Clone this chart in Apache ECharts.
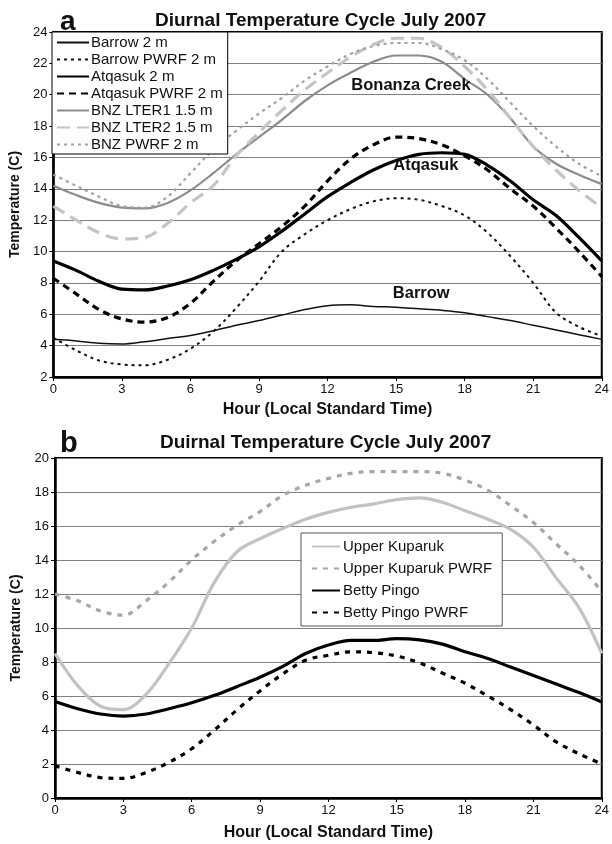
<!DOCTYPE html>
<html>
<head>
<meta charset="utf-8">
<script src="https://cdn.jsdelivr.net/npm/echarts@6/dist/echarts.min.js"></script>
<style>
html,body{margin:0;padding:0;background:#fff;}
#main{width:612px;height:844px;}
</style>
</head>
<body>
<div id="main"></div>
<script>
// ---- Data ----
var hours = [0,1,2,3,4,5,6,7,8,9,10,11,12,13,14,15,16,17,18,19,20,21,22,23,24];
var xTicks = [0,3,6,9,12,15,18,21,24];

// Panel a
var barrow2m      = [4.4,4.3,4.15,4.1,4.25,4.45,4.65,4.95,5.3,5.6,5.95,6.3,6.55,6.6,6.5,6.45,6.35,6.25,6.1,5.85,5.6,5.3,5.0,4.7,4.4];
var barrowPwrf    = [4.5,3.7,3.05,2.8,2.75,3.1,3.8,4.9,6.4,8.1,10.0,11.1,12.0,12.7,13.2,13.4,13.3,12.9,12.3,11.2,9.7,8.0,6.1,5.2,4.6];
var atqasuk2m     = [9.4,8.8,8.1,7.6,7.55,7.8,8.2,8.8,9.5,10.3,11.3,12.4,13.5,14.4,15.2,15.8,16.2,16.3,16.2,15.5,14.5,13.3,12.3,10.9,9.4];
var atqasukPwrf   = [8.3,7.3,6.3,5.7,5.5,5.8,6.7,8.1,9.4,10.5,11.6,12.9,14.5,15.9,16.8,17.3,17.2,16.8,16.1,15.2,14.0,12.9,11.5,10.0,8.4];
var bnzLter1      = [14.2,13.6,13.1,12.8,12.75,13.1,13.9,15.0,16.2,17.3,18.4,19.6,20.6,21.4,22.1,22.5,22.5,22.1,21.0,20.0,18.5,16.7,15.6,14.9,14.3];
var bnzLter2      = [12.9,12.0,11.2,10.8,10.9,11.8,13.1,14.2,16.1,17.6,19.0,20.3,21.4,22.4,23.2,23.6,23.6,23.0,21.8,20.3,18.5,16.7,15.2,13.9,12.8];
var bnzPwrf       = [14.9,14.2,13.5,12.9,12.8,13.5,15.0,16.5,17.7,18.8,19.8,20.9,21.8,22.6,23.1,23.3,23.3,22.9,22.2,21.0,19.5,18.0,16.7,15.6,14.8];

// Panel b
var upperKuparuk     = [8.5,6.6,5.4,5.2,6.1,7.9,10.0,12.7,14.5,15.25,15.85,16.4,16.8,17.1,17.3,17.55,17.65,17.4,16.9,16.4,15.8,14.75,12.95,11.2,8.5];
var upperKuparukPwrf = [12.0,11.6,11.0,10.75,11.6,12.7,14.0,15.1,16.05,16.85,17.8,18.4,18.8,19.1,19.2,19.2,19.2,19.1,18.7,18.1,17.2,16.2,14.95,13.7,12.15];
var bettyPingo       = [5.68,5.25,4.94,4.82,4.94,5.25,5.6,6.04,6.56,7.1,7.74,8.5,9.0,9.27,9.27,9.37,9.3,9.05,8.6,8.2,7.7,7.2,6.7,6.2,5.65];
var bettyPingoPwrf   = [1.9,1.5,1.2,1.15,1.5,2.1,2.9,4.0,5.2,6.3,7.3,8.1,8.4,8.6,8.55,8.35,7.95,7.35,6.75,6.0,5.2,4.3,3.3,2.6,2.0];

// Site annotations for panel a: [label, hour, temperature]
var siteLabels = [["Bonanza Creek", 15.65, 20.6], ["Atqasuk", 16.3, 15.5], ["Barrow", 16.1, 7.3]];

// ---- Chart ----
var FONT = "'Liberation Sans', Arial, sans-serif";
function pairs(vals){ return hours.map(function(h,i){ return [h, vals[i]]; }); }

function mkSeries(name, vals, idx, color, width, dash){
  return {
    name: name, type: 'line', xAxisIndex: idx, yAxisIndex: idx,
    data: pairs(vals), smooth: 0.35, symbol: 'none', showSymbol: false,
    lineStyle: { color: color, width: width, type: dash || 'solid', cap: 'butt' },
    itemStyle: { color: color },
    emphasis: { disabled: true },
    z: 3
  };
}

function xAxisCfg(idx, gap){
  return {
    type: 'value', gridIndex: idx, min: 0, max: 24, interval: 3,
    name: 'Hour (Local Standard Time)', nameLocation: 'middle', nameGap: gap,
    nameTextStyle: { fontFamily: FONT, fontSize: 16, fontWeight: 'bold', color: '#111' },
    axisLine: { show: true, onZero: false, lineStyle: { color: '#000', width: 2.5 } },
    axisTick: { show: true, length: 4, lineStyle: { color: '#000', width: 1 } },
    axisLabel: { fontFamily: FONT, fontSize: 13, color: '#111', margin: 6,
      customValues: xTicks },
    splitLine: { show: false }
  };
}
function yAxisCfg(idx, min, max, gap){
  return {
    type: 'value', gridIndex: idx, min: min, max: max, interval: 2,
    name: 'Temperature (C)', nameLocation: 'middle', nameGap: gap, nameRotate: 90,
    nameTextStyle: { fontFamily: FONT, fontSize: 14, fontWeight: 'bold', color: '#111' },
    axisLine: { show: true, onZero: false, lineStyle: { color: '#000', width: 2.5 } },
    axisTick: { show: true, length: 4, lineStyle: { color: '#000', width: 1 } },
    axisLabel: { fontFamily: FONT, fontSize: 13, color: '#111', margin: 6 },
    splitLine: { show: true, lineStyle: { color: '#808080', width: 1.2 } }
  };
}

var seriesA = [
  mkSeries('Barrow 2 m', barrow2m, 0, '#111', 1.5),
  mkSeries('Barrow PWRF 2 m', barrowPwrf, 0, '#111', 2, [3,4]),
  mkSeries('Atqasuk 2 m', atqasuk2m, 0, '#000', 3.2),
  mkSeries('Atqasuk PWRF 2 m', atqasukPwrf, 0, '#000', 3.2, [7,5]),
  mkSeries('BNZ LTER1 1.5 m', bnzLter1, 0, '#8c8c8c', 2.2),
  mkSeries('BNZ LTER2 1.5 m', bnzLter2, 0, '#c4c4c4', 3.2, [13,7]),
  mkSeries('BNZ PWRF 2 m', bnzPwrf, 0, '#a0a0a0', 2.2, [3,4])
];
seriesA[0].markPoint = {
  symbol: 'circle', symbolSize: 0, silent: true,
  label: { show: true, position: 'inside', fontFamily: FONT, fontSize: 16.5, fontWeight: 'bold', color: '#111',
    formatter: function(p){ return p.name; } },
  data: siteLabels.map(function(s){ return { name: s[0], coord: [s[1], s[2]] }; })
};

var seriesB = [
  mkSeries('Upper Kuparuk', upperKuparuk, 1, '#c2c2c2', 3.2),
  mkSeries('Upper Kuparuk PWRF', upperKuparukPwrf, 1, '#a6a6a6', 3.2, [5,6]),
  mkSeries('Betty Pingo', bettyPingo, 1, '#000', 3.2),
  mkSeries('Betty Pingo PWRF', bettyPingoPwrf, 1, '#000', 3.2, [5,6])
];

var chart = echarts.init(document.getElementById('main'), null, { renderer: 'canvas' });
chart.setOption({
  backgroundColor: '#fff',
  animation: false,
  textStyle: { fontFamily: FONT },
  title: [
    { text: 'a', left: 55, top: 3, textStyle: { fontFamily: FONT, fontSize: 28, fontWeight: 'bold', color: '#111' } },
    { text: 'Diurnal Temperature Cycle July 2007', left: 150, top: 6, textStyle: { fontFamily: FONT, fontSize: 19, fontWeight: 'bold', color: '#111' } },
    { text: 'b', left: 55, top: 424, textStyle: { fontFamily: FONT, fontSize: 29, fontWeight: 'bold', color: '#111' } },
    { text: 'Duirnal Temperature Cycle July 2007', left: 155, top: 428, textStyle: { fontFamily: FONT, fontSize: 19, fontWeight: 'bold', color: '#111' } }
  ],
  grid: [
    { left: 51, right: 6, top: 32, height: 345, show: true, borderColor: '#000', borderWidth: 2, backgroundColor: 'transparent' },
    { left: 55, right: 6, top: 458, height: 340, show: true, borderColor: '#000', borderWidth: 2, backgroundColor: 'transparent' }
  ],
  xAxis: [xAxisCfg(0, 25), xAxisCfg(1, 27)],
  yAxis: [yAxisCfg(0, 2, 24, 25), yAxisCfg(1, 0, 20, 27)],
  legend: [
    {
      data: seriesA.map(function(s){ return s.name; }),
      orient: 'vertical', left: 52, top: 32, itemWidth: 32, itemHeight: 14, itemGap: 2,
      padding: [3, 5, 2, 4], backgroundColor: '#fff', borderColor: '#000', borderWidth: 1,
      itemStyle: { opacity: 0 },
      textStyle: { fontFamily: FONT, fontSize: 15, lineHeight: 15, color: '#111', padding: [0,0,0,-3] },
      selectedMode: false, z: 10
    },
    {
      data: seriesB.map(function(s){ return s.name; }),
      orient: 'vertical', left: 301, top: 533, itemWidth: 28, itemHeight: 14, itemGap: 7,
      padding: [6, 10, 6, 10], backgroundColor: '#fff', borderColor: '#555', borderWidth: 1,
      itemStyle: { opacity: 0 },
      textStyle: { fontFamily: FONT, fontSize: 15, color: '#111', padding: [0,0,0,-2] },
      selectedMode: false, z: 10
    }
  ],
  series: seriesA.concat(seriesB)
});
</script>
</body>
</html>
